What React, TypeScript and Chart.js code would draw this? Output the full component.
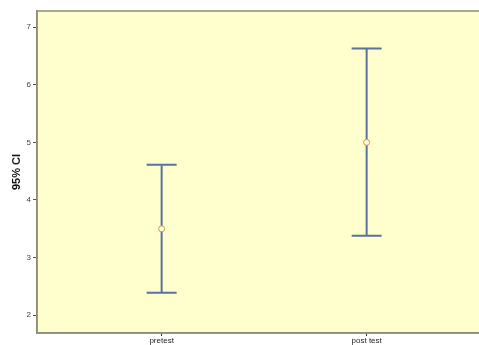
import React, { useEffect, useRef } from "react";
import { Chart, registerables } from "chart.js";

Chart.register(...registerables);

const categories = ["pretest", "post test"];
const positions = [1, 2];
const means = [3.5, 5.0];
const lowerCI = [2.39, 3.38];
const upperCI = [4.61, 6.63];
const yTickValues = [2, 3, 4, 5, 6, 7];

const BG = "#FFFFCE";
const FRAME = "#8C8C78";
const BAR = "#5A70A0";

export default function App() {
  const ref = useRef<HTMLCanvasElement | null>(null);

  useEffect(() => {
    if (!ref.current) return;
    const plugin = {
      id: "ciPlot",
      beforeDraw(chart: any) {
        const { ctx, chartArea: a } = chart;
        ctx.save();
        ctx.fillStyle = BG;
        ctx.fillRect(a.left, a.top, a.right - a.left, a.bottom - a.top);
        ctx.restore();
      },
      beforeDatasetsDraw(chart: any) {
        const { ctx, scales } = chart;
        const xs = scales.x;
        const ys = scales.y;
        ctx.save();
        ctx.strokeStyle = BAR;
        ctx.lineWidth = 2;
        for (let i = 0; i < positions.length; i++) {
          const x = xs.getPixelForValue(positions[i]);
          const yl = ys.getPixelForValue(lowerCI[i]);
          const yu = ys.getPixelForValue(upperCI[i]);
          ctx.beginPath();
          ctx.moveTo(x, yl);
          ctx.lineTo(x, yu);
          ctx.moveTo(x - 15, yl);
          ctx.lineTo(x + 15, yl);
          ctx.moveTo(x - 15, yu);
          ctx.lineTo(x + 15, yu);
          ctx.stroke();
        }
        ctx.restore();
      },
      afterDraw(chart: any) {
        const { ctx, chartArea: a } = chart;
        ctx.save();
        ctx.strokeStyle = FRAME;
        ctx.lineWidth = 1.5;
        ctx.strokeRect(a.left, a.top, a.right - a.left + 2, a.bottom - a.top);
        ctx.restore();
      },
    };

    const chart = new Chart(ref.current, {
      type: "scatter",
      data: {
        datasets: [
          {
            data: positions.map((p, i) => ({ x: p, y: means[i] })),
            pointRadius: 3,
            pointBorderColor: "#D8905C",
            pointBackgroundColor: BG,
            pointBorderWidth: 1,
          },
        ],
      },
      options: {
        animation: false,
        responsive: false,
        maintainAspectRatio: false,
        layout: { autoPadding: false, padding: { top: 11, right: 0, left: 0, bottom: 0 } },
        plugins: { legend: { display: false }, tooltip: { enabled: false } },
        scales: {
          x: {
            type: "linear",
            min: 0.392,
            max: 2.548,
            afterBuildTicks: (s: any) => {
              s.ticks = positions.map((v) => ({ value: v }));
            },
            afterFit: (s: any) => {
              s.height = 12;
              s.paddingLeft = 0;
              s.paddingRight = 0;
            },
            ticks: {
              autoSkip: false,
              maxRotation: 0,
              padding: 0,
              color: "#222",
              font: { family: "Liberation Sans", size: 8 },
              callback: (v: any) => {
                const i = positions.indexOf(Number(v));
                return i >= 0 ? categories[i] : "";
              },
            },
            grid: {
              display: true,
              drawOnChartArea: false,
              drawTicks: true,
              tickLength: 3,
              color: "#333",
            },
            border: { display: true, color: FRAME, width: 1.5 },
          },
          y: {
            min: 1.69,
            max: 7.28,
            afterBuildTicks: (s: any) => {
              s.ticks = yTickValues.map((v) => ({ value: v }));
            },
            afterFit: (s: any) => {
              s.width = 37;
              s.paddingTop = 0;
              s.paddingBottom = 0;
            },
            ticks: {
              padding: 2,
              color: "#444",
              font: { family: "Liberation Sans", size: 8 },
            },
            grid: {
              display: true,
              drawOnChartArea: false,
              drawTicks: true,
              tickLength: 4,
              color: "#555",
            },
            border: { display: true, color: FRAME, width: 1.5 },
            title: {
              display: true,
              text: "95% CI",
              color: "#111",
              font: { family: "Liberation Sans", size: 11, weight: "bold" },
              padding: { top: 10, bottom: 0 },
            },
          },
        },
      },
      plugins: [plugin],
    });
    return () => chart.destroy();
  }, []);

  return (
    <div style={{ position: "fixed", left: 0, top: 0, width: 479, height: 345, background: "#fff" }}>
      <canvas ref={ref} width={479} height={345} style={{ display: "block" }} />
    </div>
  );
}
